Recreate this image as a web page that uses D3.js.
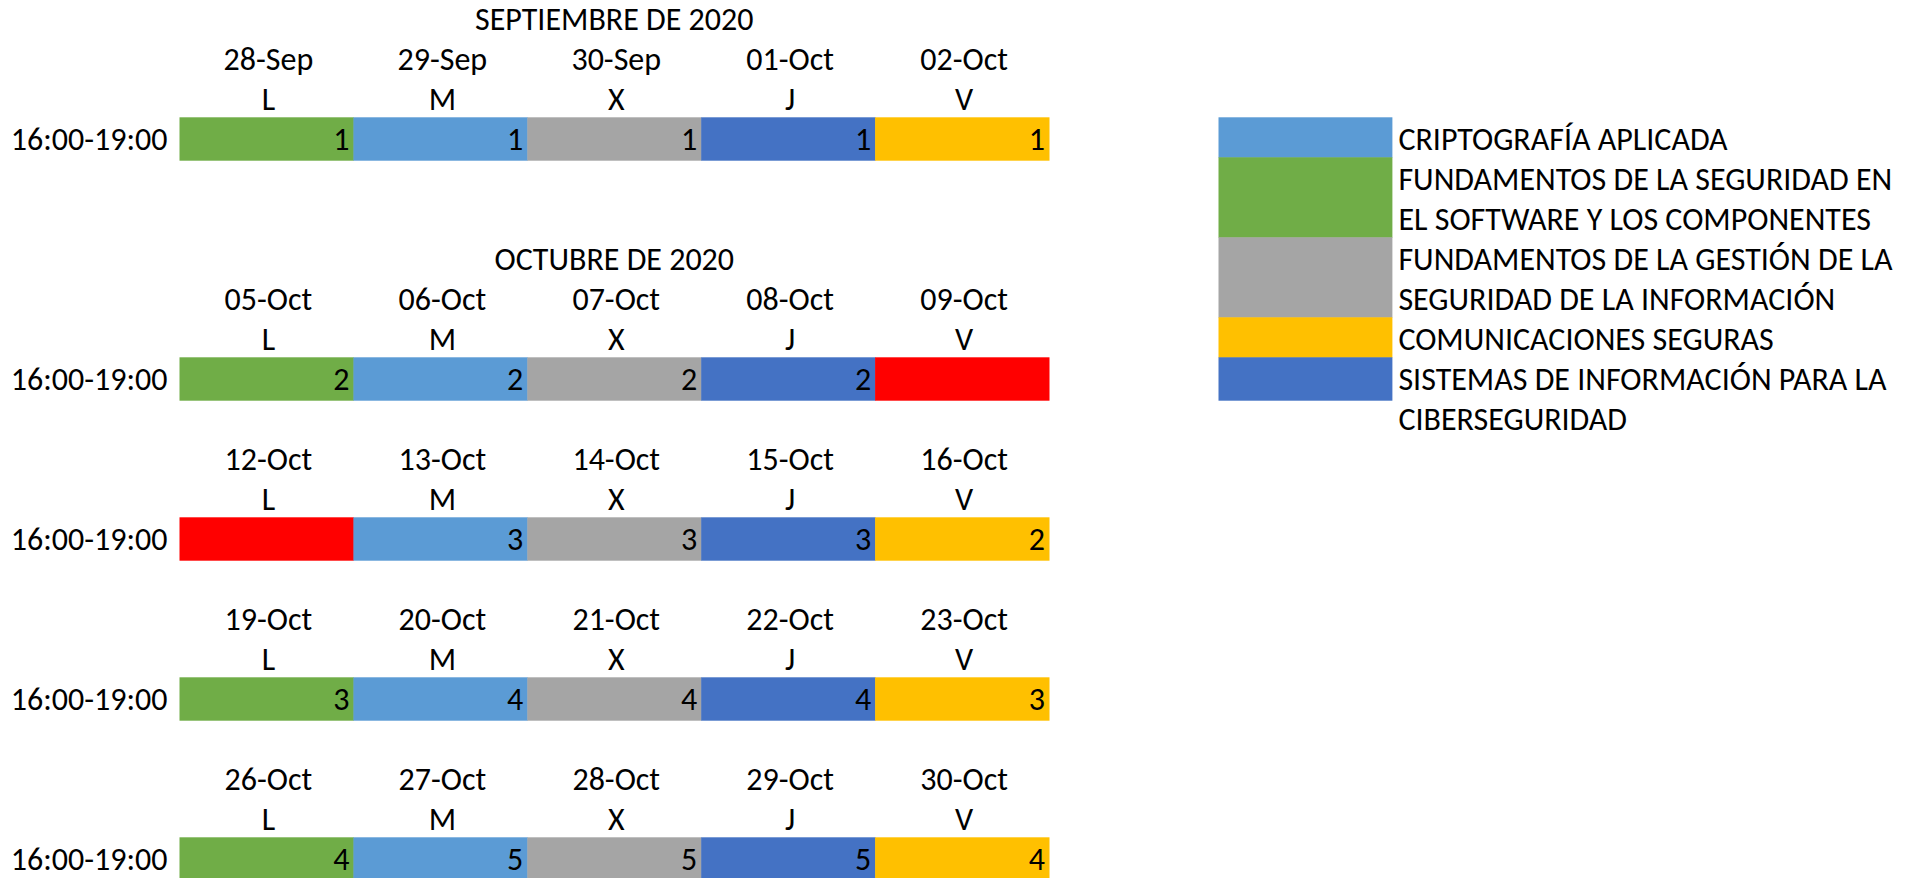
<!DOCTYPE html>
<html>
<head>
<meta charset="utf-8">
<script src="https://cdn.jsdelivr.net/npm/d3@7"></script>
<style>
  html, body { margin: 0; padding: 0; background: #ffffff; }
  svg { display: block; }
  text { font-family: Carlito, "Liberation Sans", Arial, sans-serif; fill: #000; }
</style>
</head>
<body>
<svg id="chart" width="1928" height="878"></svg>
<script>
// ---------- DATA ----------
const dayLetters = ["L", "M", "X", "J", "V"];
const timeSlot = "16:00-19:00";

const weekTitles = ["SEPTIEMBRE DE 2020", "OCTUBRE DE 2020", null, null, null];
const weekDates = [
  ["28-Sep", "29-Sep", "30-Sep", "01-Oct", "02-Oct"],
  ["05-Oct", "06-Oct", "07-Oct", "08-Oct", "09-Oct"],
  ["12-Oct", "13-Oct", "14-Oct", "15-Oct", "16-Oct"],
  ["19-Oct", "20-Oct", "21-Oct", "22-Oct", "23-Oct"],
  ["26-Oct", "27-Oct", "28-Oct", "29-Oct", "30-Oct"]
];
// subject key per day (FEST = holiday, red)
const weekSubjects = [
  ["SW", "CRIPTO", "GEST", "SIS", "COM"],
  ["SW", "CRIPTO", "GEST", "SIS", "FEST"],
  ["FEST", "CRIPTO", "GEST", "SIS", "COM"],
  ["SW", "CRIPTO", "GEST", "SIS", "COM"],
  ["SW", "CRIPTO", "GEST", "SIS", "COM"]
];
// session numbers
const weekValues = [
  [1, 1, 1, 1, 1],
  [2, 2, 2, 2, null],
  [null, 3, 3, 3, 2],
  [3, 4, 4, 4, 3],
  [4, 5, 5, 5, 4]
];

const legendKeys = ["CRIPTO", "SW", "GEST", "COM", "SIS"];
const legendLabels = [
  ["CRIPTOGRAFÍA APLICADA"],
  ["FUNDAMENTOS DE LA SEGURIDAD EN", "EL SOFTWARE Y LOS COMPONENTES"],
  ["FUNDAMENTOS DE LA GESTIÓN DE LA", "SEGURIDAD DE LA INFORMACIÓN"],
  ["COMUNICACIONES SEGURAS"],
  ["SISTEMAS DE INFORMACIÓN PARA LA", "CIBERSEGURIDAD"]
];
const subjectKeys = ["CRIPTO", "SW", "GEST", "COM", "SIS", "FEST"];
const subjectColors = ["#5B9BD5", "#70AD47", "#A5A5A5", "#FFC000", "#4472C4", "#FF0000"];

// ---------- LAYOUT ----------
const svg = d3.select("#chart");
const FS = 32;
const ROW = 40;
const CELL_H = 43.4;
const BASE = 32.5;

const color = d3.scaleOrdinal().domain(subjectKeys).range(subjectColors);
const x = d3.scaleBand().domain(d3.range(5)).range([179.5, 1049]).paddingInner(0).paddingOuter(0);
const rowY = d3.scaleLinear().domain([0, 1]).range([-2.7, -2.7 + ROW]);

// compute sheet rows for each week block
const blocks = [];
let r = 0;
weekDates.forEach((dates, i) => {
  const b = { i };
  if (i > 0) r += 1;
  if (weekTitles[i]) {
    if (i > 0) r += 1;
    b.titleRow = r;
    r += 1;
  }
  b.dateRow = r;
  b.dayRow = r + 1;
  b.cellRow = r + 2;
  r += 3;
  blocks.push(b);
});

const g = svg.append("g");

blocks.forEach(b => {
  const i = b.i;
  const bg = g.append("g").attr("class", "week");
  if (b.titleRow !== undefined) {
    bg.append("text")
      .attr("x", x(2) + x.bandwidth() / 2)
      .attr("y", rowY(b.titleRow) + BASE)
      .attr("text-anchor", "middle")
      .attr("font-size", FS)
      .text(weekTitles[i]);
  }
  bg.selectAll("text.date").data(weekDates[i]).enter().append("text")
    .attr("class", "date")
    .attr("x", (d, j) => x(j) + x.bandwidth() / 2 + 2)
    .attr("y", rowY(b.dateRow) + BASE)
    .attr("text-anchor", "middle")
    .attr("font-size", FS)
    .text(d => d);
  bg.selectAll("text.day").data(dayLetters).enter().append("text")
    .attr("class", "day")
    .attr("x", (d, j) => x(j) + x.bandwidth() / 2 + 2)
    .attr("y", rowY(b.dayRow) + BASE)
    .attr("text-anchor", "middle")
    .attr("font-size", FS)
    .text(d => d);
  bg.append("text")
    .attr("x", x(0) - 12)
    .attr("y", rowY(b.cellRow) + BASE)
    .attr("text-anchor", "end")
    .attr("font-size", FS)
    .text(timeSlot);
  const cells = weekSubjects[i].map((s, j) => ({ s, j, v: weekValues[i][j] }));
  bg.selectAll("rect").data(cells).enter().append("rect")
    .attr("x", d => x(d.j))
    .attr("y", rowY(b.cellRow))
    .attr("width", x.bandwidth() + 0.5)
    .attr("height", CELL_H)
    .attr("fill", d => color(d.s));
  bg.selectAll("text.val").data(cells.filter(d => d.v !== null)).enter().append("text")
    .attr("class", "val")
    .attr("x", d => x(d.j) + x.bandwidth() - 4)
    .attr("y", rowY(b.cellRow) + BASE)
    .attr("text-anchor", "end")
    .attr("font-size", FS)
    .text(d => d.v);
});

// ---------- LEGEND ----------
const legX = 1218.5;
const legW = x.bandwidth();
let lr = 3;
const lg = svg.append("g").attr("class", "legend");
legendKeys.forEach((k, i) => {
  const lines = legendLabels[i];
  const isLast = i === legendKeys.length - 1;
  lg.append("rect")
    .attr("x", legX)
    .attr("y", rowY(lr))
    .attr("width", legW)
    .attr("height", isLast ? CELL_H : lines.length * ROW + 0.5)
    .attr("fill", color(k));
  lines.forEach((t, li) => {
    lg.append("text")
      .attr("x", legX + legW + 6)
      .attr("y", rowY(lr + li) + BASE)
      .attr("font-size", FS)
      .text(t);
  });
  lr += lines.length;
});
</script>
</body>
</html>
